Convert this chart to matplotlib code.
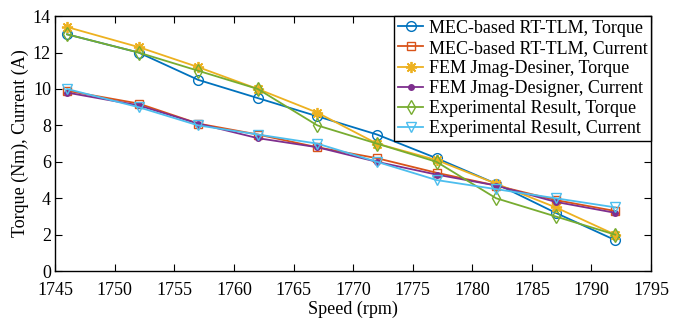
import matplotlib
matplotlib.use("Agg")
import matplotlib.pyplot as plt

plt.rcParams['font.family'] = ['Liberation Serif', 'DejaVu Serif']

speed = [1746, 1752, 1757, 1762, 1767, 1772, 1777, 1782, 1787, 1792]

mec_torque = [13.0, 12.0, 10.5, 9.5, 8.5, 7.5, 6.2, 4.8, 3.2, 1.7]
mec_current = [9.9, 9.2, 8.1, 7.5, 6.8, 6.2, 5.4, 4.7, 3.9, 3.3]
fem_torque = [13.4, 12.3, 11.2, 10.0, 8.7, 7.0, 6.1, 4.8, 3.5, 2.0]
fem_current = [9.8, 9.1, 8.1, 7.3, 6.8, 6.0, 5.3, 4.7, 3.8, 3.2]
exp_torque = [13.0, 12.0, 11.0, 10.0, 8.0, 7.0, 6.0, 4.0, 3.0, 2.0]
exp_current = [10.0, 9.0, 8.0, 7.5, 7.0, 6.0, 5.0, 4.5, 4.0, 3.5]

labels = ['MEC-based RT-TLM, Torque', 'MEC-based RT-TLM, Current',
          'FEM Jmag-Desiner, Torque', 'FEM Jmag-Designer, Current',
          'Experimental Result, Torque', 'Experimental Result, Current']

fig = plt.figure(figsize=(6.81, 3.22), dpi=100)
ax = fig.add_axes([0.081, 0.158, 0.875, 0.792])

ax.plot(speed, mec_torque, '-o', color='#0072BD', mfc='none', ms=7, lw=1.3, label=labels[0])
ax.plot(speed, mec_current, '-s', color='#D95319', mfc='none', ms=6, lw=1.3, label=labels[1])
ax.plot(speed, fem_torque, '-', marker=(8, 2, 0), color='#EDB120', ms=8, mew=1.3, lw=1.3, label=labels[2])
ax.plot(speed, fem_current, '-o', color='#7E2F8E', ms=4, lw=1.3, label=labels[3])
ax.plot(speed, exp_torque, '-d', color='#77AC30', mfc='none', ms=7, lw=1.3, label=labels[4])
ax.plot(speed, exp_current, '-v', color='#4DBEEE', mfc='none', ms=7, lw=1.3, label=labels[5])

ax.set_xlim(1745, 1795)
ax.set_ylim(0, 14)
ax.set_xticks(range(1745, 1796, 5))
ax.set_yticks(range(0, 15, 2))
ax.tick_params(direction='in', top=True, right=True, labelsize=13, length=5)
ax.tick_params(axis='x', pad=8)
ax.tick_params(axis='y', pad=3)
for s in ax.spines.values():
    s.set_linewidth(1.0)
ax.set_xlabel('Speed (rpm)', fontsize=13, labelpad=1)
ax.set_ylabel('Torque (Nm), Current (A)', fontsize=13, labelpad=3)

leg = ax.legend(loc='upper right', fontsize=13, frameon=True, fancybox=False,
                borderaxespad=0, handlelength=1.4, handletextpad=0.3,
                labelspacing=0.17, borderpad=0.2, framealpha=1)
leg.get_frame().set_edgecolor('black')
leg.get_frame().set_linewidth(1.0)

fig.savefig('out.png', dpi=100)
